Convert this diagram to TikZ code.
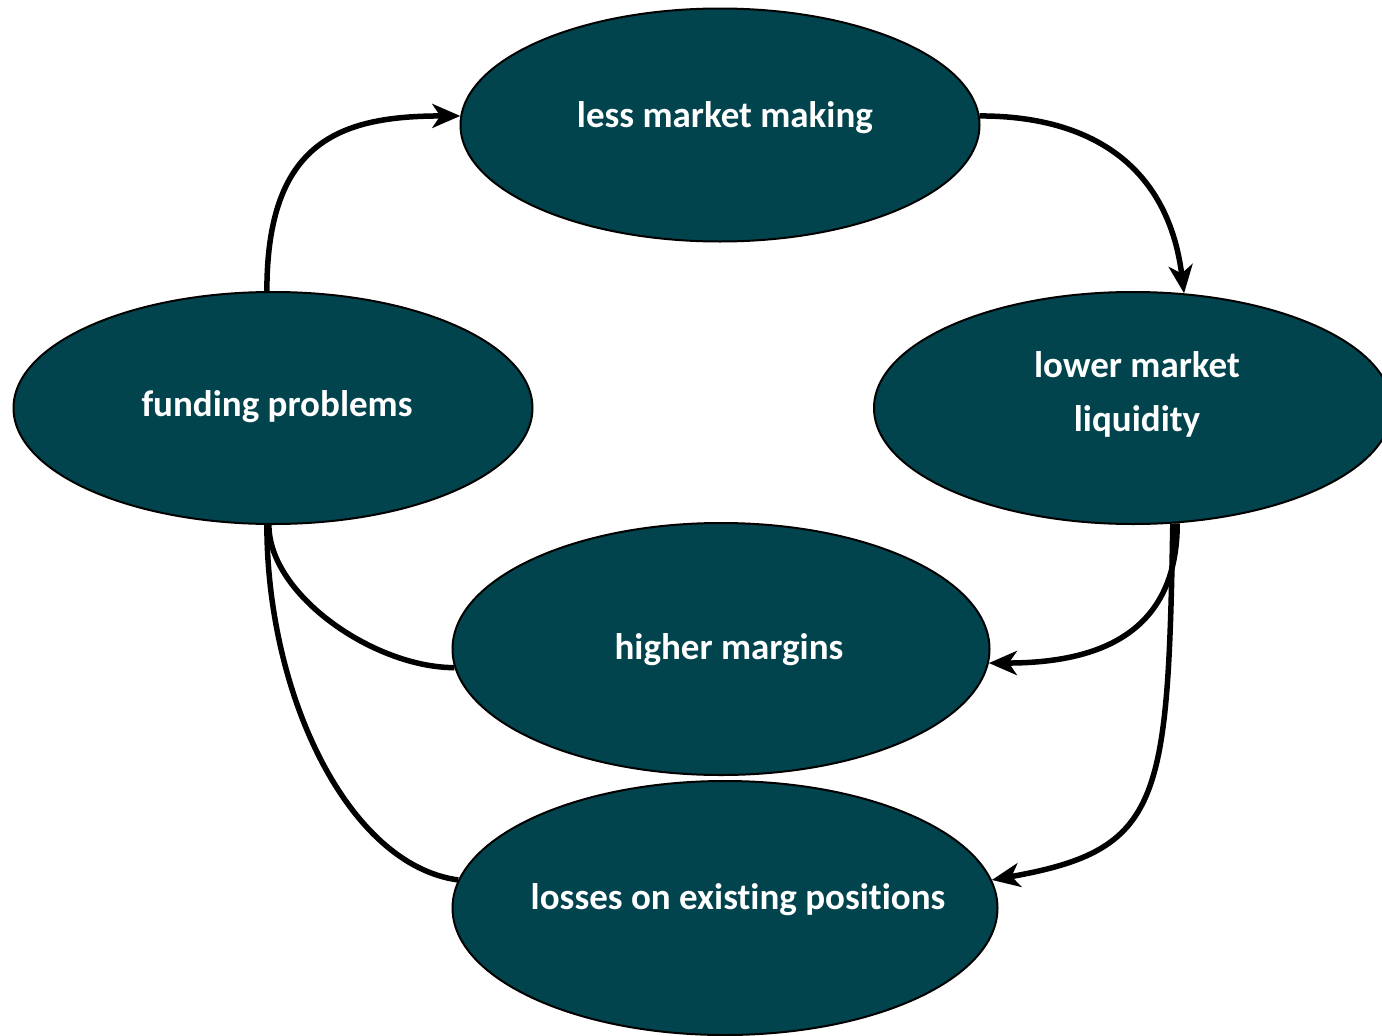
\documentclass[tikz,border=0pt]{standalone}
\usepackage{fontspec}
\setmainfont{Carlito}[RawFeature={-liga}]
\usetikzlibrary{shapes.geometric,arrows.meta,backgrounds}
\definecolor{bubblefill}{HTML}{02444E}

\begin{document}
\begin{tikzpicture}[x=1pt,y=-1pt,
  bubble/.style={ellipse, draw=black, line width=2pt, fill=bubblefill, inner sep=0pt},
  caption/.style={text=white, font=\bfseries\fontsize{37}{54}\selectfont, align=center, inner sep=0pt},
  link/.style={line width=5.5pt, draw=black},
  tip/.style={-{Stealth[length=28pt,width=24pt,inset=8pt]}}]
  \useasboundingbox (0,0) rectangle (1382,1036);
  \clip (0,0) rectangle (1382,1036);

  % the five stages of the spiral
  \node[bubble, minimum width=519pt, minimum height=233pt] (make) at (720,125) {};
  \node[bubble, minimum width=519pt, minimum height=232pt] (fund) at (273,408) {};
  \node[bubble, minimum width=518pt, minimum height=232pt] (liq)  at (1133,408) {};
  \node[bubble, minimum width=537pt, minimum height=252pt] (marg) at (721,649) {};
  \node[bubble, minimum width=545pt, minimum height=254pt] (loss) at (725,908) {};

  % captions
  \node[caption, xshift=5pt,  yshift=7pt]  (tmake) at (make) {less market making};
  \node[caption, xshift=4pt,  yshift=1pt]  (tfund) at (fund) {funding problems};
  \node[caption, xshift=4pt,  yshift=14pt] (tliq)  at (liq)  {lower market\\liquidity};
  \node[caption, xshift=8pt,  yshift=-1pt] (tmarg) at (marg) {higher margins};
  \node[caption, xshift=13pt, yshift=8pt]  (tloss) at (loss) {losses on existing positions};

  % connectors, kept behind the ellipses
  \begin{scope}[on background layer]
    \draw[link,tip] (fund.93) .. controls +(0,-150) and +(-120,0) .. (make.178);
    \draw[link,tip] (make.2) .. controls +(120,0) and +(-15,-120) .. (liq.66);
    \draw[link,tip] (liq.-69) .. controls +(0,110) and +(110,0) .. (marg.-3);
    \draw[link,tip] (liq.-71) .. controls +(-5,280) and +(170,-30) .. (loss.6);
    \draw[link] (marg.184) .. controls +(-80,0) and +(0,70) .. (fund.-92);
    \draw[link] (loss.174) .. controls +(-110,-15) and +(0,170) .. (fund.-93);
  \end{scope}
\end{tikzpicture}
\end{document}
